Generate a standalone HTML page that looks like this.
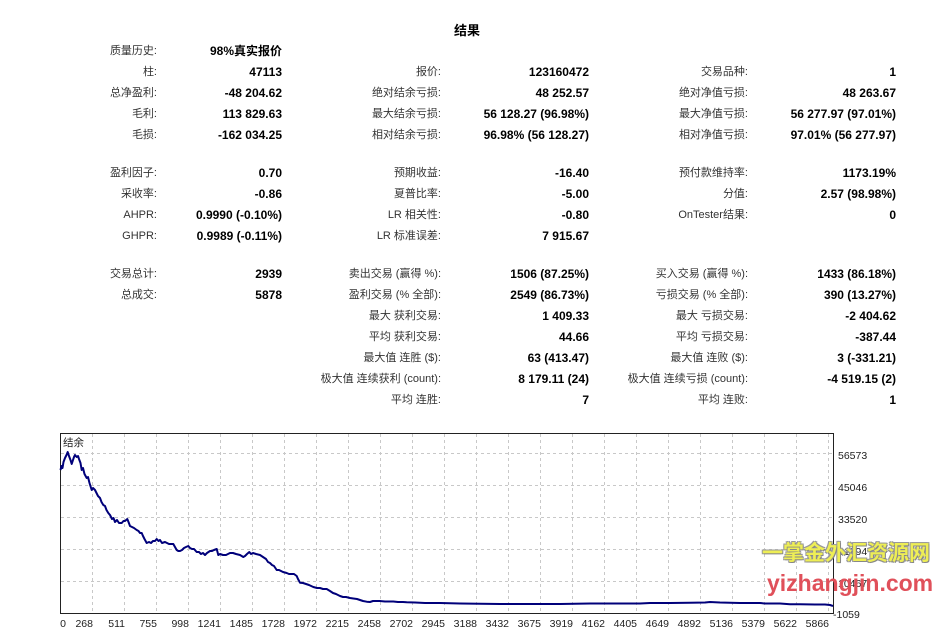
<!DOCTYPE html>
<html><head><meta charset="utf-8">
<style>
html,body{margin:0;padding:0;background:#fff;}
#wrap{position:relative;width:950px;height:637px;overflow:hidden;font-family:"Liberation Sans","Noto Sans CJK SC",sans-serif;}
.t{position:absolute;white-space:nowrap;line-height:14px;height:14px;}
.l{font-size:11px;color:#333;text-align:right;}
.v{font-size:12px;font-weight:bold;color:#000;text-align:right;}
.title{position:absolute;left:440px;width:54px;text-align:center;top:20px;font-size:13px;font-weight:bold;color:#000;}
svg{position:absolute;left:0;top:0;}
.wm1{position:absolute;left:762px;top:539px;font-family:"Noto Sans CJK SC","WenQuanYi Zen Hei",sans-serif;font-weight:bold;font-size:21px;line-height:26px;color:#eeee55;letter-spacing:0px;text-shadow:1px 1px 0 #888,-1px -1px 0 #999,1px -1px 0 #999,-1px 1px 0 #999;white-space:nowrap;}
.wm2{position:absolute;left:767px;top:570px;font-family:"Liberation Sans",sans-serif;font-weight:bold;font-size:23px;line-height:26px;color:#e0505a;white-space:nowrap;}
</style></head>
<body><div id="wrap">
<div class="title">结果</div>

<!-- rows: helper positions: L1 end 157, V1 end 282, L2 end 441, V2 end 589, L3 end 748, V3 end 896 -->
<!-- row 51 -->
<div class="t l" style="top:44px;right:793px;">质量历史:</div>
<div class="t v" style="top:44px;right:668px;">98%真实报价</div>
<!-- row 72 -->
<div class="t l" style="top:65px;right:793px;">柱:</div>
<div class="t v" style="top:65px;right:668px;">47113</div>
<div class="t l" style="top:65px;right:509px;">报价:</div>
<div class="t v" style="top:65px;right:361px;">123160472</div>
<div class="t l" style="top:65px;right:202px;">交易品种:</div>
<div class="t v" style="top:65px;right:54px;">1</div>
<!-- row 93 -->
<div class="t l" style="top:86px;right:793px;">总净盈利:</div>
<div class="t v" style="top:86px;right:668px;">-48 204.62</div>
<div class="t l" style="top:86px;right:509px;">绝对结余亏损:</div>
<div class="t v" style="top:86px;right:361px;">48 252.57</div>
<div class="t l" style="top:86px;right:202px;">绝对净值亏损:</div>
<div class="t v" style="top:86px;right:54px;">48 263.67</div>
<!-- row 114 -->
<div class="t l" style="top:107px;right:793px;">毛利:</div>
<div class="t v" style="top:107px;right:668px;">113 829.63</div>
<div class="t l" style="top:107px;right:509px;">最大结余亏损:</div>
<div class="t v" style="top:107px;right:361px;">56 128.27 (96.98%)</div>
<div class="t l" style="top:107px;right:202px;">最大净值亏损:</div>
<div class="t v" style="top:107px;right:54px;">56 277.97 (97.01%)</div>
<!-- row 135 -->
<div class="t l" style="top:128px;right:793px;">毛损:</div>
<div class="t v" style="top:128px;right:668px;">-162 034.25</div>
<div class="t l" style="top:128px;right:509px;">相对结余亏损:</div>
<div class="t v" style="top:128px;right:361px;">96.98% (56 128.27)</div>
<div class="t l" style="top:128px;right:202px;">相对净值亏损:</div>
<div class="t v" style="top:128px;right:54px;">97.01% (56 277.97)</div>
<!-- row 173 -->
<div class="t l" style="top:166px;right:793px;">盈利因子:</div>
<div class="t v" style="top:166px;right:668px;">0.70</div>
<div class="t l" style="top:166px;right:509px;">预期收益:</div>
<div class="t v" style="top:166px;right:361px;">-16.40</div>
<div class="t l" style="top:166px;right:202px;">预付款维持率:</div>
<div class="t v" style="top:166px;right:54px;">1173.19%</div>
<!-- row 194 -->
<div class="t l" style="top:187px;right:793px;">采收率:</div>
<div class="t v" style="top:187px;right:668px;">-0.86</div>
<div class="t l" style="top:187px;right:509px;">夏普比率:</div>
<div class="t v" style="top:187px;right:361px;">-5.00</div>
<div class="t l" style="top:187px;right:202px;">分值:</div>
<div class="t v" style="top:187px;right:54px;">2.57 (98.98%)</div>
<!-- row 215 -->
<div class="t l" style="top:208px;right:793px;">AHPR:</div>
<div class="t v" style="top:208px;right:668px;">0.9990 (-0.10%)</div>
<div class="t l" style="top:208px;right:509px;">LR 相关性:</div>
<div class="t v" style="top:208px;right:361px;">-0.80</div>
<div class="t l" style="top:208px;right:202px;">OnTester结果:</div>
<div class="t v" style="top:208px;right:54px;">0</div>
<!-- row 236 -->
<div class="t l" style="top:229px;right:793px;">GHPR:</div>
<div class="t v" style="top:229px;right:668px;">0.9989 (-0.11%)</div>
<div class="t l" style="top:229px;right:509px;">LR 标准误差:</div>
<div class="t v" style="top:229px;right:361px;">7 915.67</div>
<!-- row 274 -->
<div class="t l" style="top:267px;right:793px;">交易总计:</div>
<div class="t v" style="top:267px;right:668px;">2939</div>
<div class="t l" style="top:267px;right:509px;">卖出交易 (赢得 %):</div>
<div class="t v" style="top:267px;right:361px;">1506 (87.25%)</div>
<div class="t l" style="top:267px;right:202px;">买入交易 (赢得 %):</div>
<div class="t v" style="top:267px;right:54px;">1433 (86.18%)</div>
<!-- row 295 -->
<div class="t l" style="top:288px;right:793px;">总成交:</div>
<div class="t v" style="top:288px;right:668px;">5878</div>
<div class="t l" style="top:288px;right:509px;">盈利交易 (% 全部):</div>
<div class="t v" style="top:288px;right:361px;">2549 (86.73%)</div>
<div class="t l" style="top:288px;right:202px;">亏损交易 (% 全部):</div>
<div class="t v" style="top:288px;right:54px;">390 (13.27%)</div>
<!-- row 316 -->
<div class="t l" style="top:309px;right:509px;">最大 获利交易:</div>
<div class="t v" style="top:309px;right:361px;">1 409.33</div>
<div class="t l" style="top:309px;right:202px;">最大 亏损交易:</div>
<div class="t v" style="top:309px;right:54px;">-2 404.62</div>
<!-- row 337 -->
<div class="t l" style="top:330px;right:509px;">平均 获利交易:</div>
<div class="t v" style="top:330px;right:361px;">44.66</div>
<div class="t l" style="top:330px;right:202px;">平均 亏损交易:</div>
<div class="t v" style="top:330px;right:54px;">-387.44</div>
<!-- row 358 -->
<div class="t l" style="top:351px;right:509px;">最大值 连胜 ($):</div>
<div class="t v" style="top:351px;right:361px;">63 (413.47)</div>
<div class="t l" style="top:351px;right:202px;">最大值 连败 ($):</div>
<div class="t v" style="top:351px;right:54px;">3 (-331.21)</div>
<!-- row 379 -->
<div class="t l" style="top:372px;right:509px;">极大值 连续获利 (count):</div>
<div class="t v" style="top:372px;right:361px;">8 179.11 (24)</div>
<div class="t l" style="top:372px;right:202px;">极大值 连续亏损 (count):</div>
<div class="t v" style="top:372px;right:54px;">-4 519.15 (2)</div>
<!-- row 400 -->
<div class="t l" style="top:393px;right:509px;">平均 连胜:</div>
<div class="t v" style="top:393px;right:361px;">7</div>
<div class="t l" style="top:393px;right:202px;">平均 连败:</div>
<div class="t v" style="top:393px;right:54px;">1</div>

<svg width="950" height="637" viewBox="0 0 950 637" xmlns="http://www.w3.org/2000/svg">
<g stroke="#c8c8c8" stroke-width="1" stroke-dasharray="3,3" fill="none">
<line x1="61" y1="453.5" x2="833" y2="453.5"/>
<line x1="61" y1="485.5" x2="833" y2="485.5"/>
<line x1="61" y1="517.5" x2="833" y2="517.5"/>
<line x1="61" y1="549.5" x2="833" y2="549.5"/>
<line x1="61" y1="581.5" x2="833" y2="581.5"/>
<line x1="92.5" y1="434" x2="92.5" y2="613"/>
<line x1="124.5" y1="434" x2="124.5" y2="613"/>
<line x1="156.5" y1="434" x2="156.5" y2="613"/>
<line x1="188.5" y1="434" x2="188.5" y2="613"/>
<line x1="220.5" y1="434" x2="220.5" y2="613"/>
<line x1="252.5" y1="434" x2="252.5" y2="613"/>
<line x1="284.5" y1="434" x2="284.5" y2="613"/>
<line x1="316.5" y1="434" x2="316.5" y2="613"/>
<line x1="348.5" y1="434" x2="348.5" y2="613"/>
<line x1="380.5" y1="434" x2="380.5" y2="613"/>
<line x1="412.5" y1="434" x2="412.5" y2="613"/>
<line x1="444.5" y1="434" x2="444.5" y2="613"/>
<line x1="476.5" y1="434" x2="476.5" y2="613"/>
<line x1="508.5" y1="434" x2="508.5" y2="613"/>
<line x1="540.5" y1="434" x2="540.5" y2="613"/>
<line x1="572.5" y1="434" x2="572.5" y2="613"/>
<line x1="604.5" y1="434" x2="604.5" y2="613"/>
<line x1="636.5" y1="434" x2="636.5" y2="613"/>
<line x1="668.5" y1="434" x2="668.5" y2="613"/>
<line x1="700.5" y1="434" x2="700.5" y2="613"/>
<line x1="732.5" y1="434" x2="732.5" y2="613"/>
<line x1="764.5" y1="434" x2="764.5" y2="613"/>
<line x1="796.5" y1="434" x2="796.5" y2="613"/>
<line x1="828.5" y1="434" x2="828.5" y2="613"/>
</g>
<rect x="60.5" y="433.5" width="773" height="180" fill="none" stroke="#222" stroke-width="1"/>
<polyline fill="none" stroke="#00007a" stroke-width="2" stroke-linejoin="round" points="
60.5,470 61.5,466 62.5,468 63.5,462 65,458 66.5,455 67.7,452 69,456 70.5,460 71.7,464 73,460 74,457 75,455 76.7,457 78,456 79,459 80.5,463 81.7,470 83,468 84.5,474 86.7,478 88,477 89.5,483 91.7,490 93,488 95,490 96.5,493 98,496 100,498 101.5,502 103.3,505 105,506 106.5,510 108.3,513 110,515 112,519 113.5,518 115,522 117,520 119,523 121.7,523 123.5,521 125,521 127.3,519 128.5,522 130,526 132,527 134,528 136.7,530 138.5,531 140,533 141.7,533 143,536 144.5,539 146.7,543 149,542 151,543 153,541 155,541 156.7,539 158.5,541 160,540 162,543 165,542 167,543 169,544 171,544 173.3,544 175,547 176.7,550 178.3,551 180,551 182,550 184,548 186,547 188.3,546 190,548 192,549 194,549 196.7,552 199,552 201,554 203,553 205,555 207,553 208.5,552 210,551 212,551 214,550 216.7,549 218.3,555 220,554 223,555 226,555 230,553 233,553 236,554 240,555 243.3,557 245,556 247,554 249.3,552 251,554 253,553 256,554 260,555 263,557 266,559 268,562 270,563 272,565 274,566 276.7,570 279,570 281,571 283,572 286.7,573 289,574 292,574 294,574 296.7,576 298,579 300,582.7 303,583 306,584 309,585 313.3,587 317,588 320,588 323,589 326.7,589 330,591 333,593 336,594 340,596 343,597 346,597 350,598 353.3,598.5 357,599 360,600 363,601 366.7,601.7 370,602 373,601 376,601 380,601 385,601.5 390,601.5 393.3,601.5 398,602 403,602 406.7,602.3 415,602.5 425,603 440,603 460,603.5 480,603.8 500,604 530,604 560,604 590,603.5 620,603.5 640,603.5 650,603 670,603 690,602.8 705,602.5 710,602 720,602.5 740,603 760,603 765,603.5 780,603.5 790,604.3 800,604.3 815,604.5 825,604.5 830,605 833,606"/>
<text x="63" y="446" font-family="Liberation Sans, Noto Sans CJK SC, sans-serif" font-size="10.5" fill="#222">结余</text>
<g font-family="Liberation Sans, sans-serif" font-size="10.5" fill="#222">
<text x="838" y="459">56573</text>
<text x="838" y="491">45046</text>
<text x="838" y="523">33520</text>
<text x="838" y="555">21994</text>
<text x="838" y="587">10467</text>
<text x="833" y="618">-1059</text>
</g>
<g font-family="Liberation Sans, sans-serif" font-size="10.5" fill="#222" text-anchor="end">
<text x="66" y="627">0</text>
<text x="93" y="627">268</text>
<text x="125" y="627">511</text>
<text x="157" y="627">755</text>
<text x="189" y="627">998</text>
<text x="221" y="627">1241</text>
<text x="253" y="627">1485</text>
<text x="285" y="627">1728</text>
<text x="317" y="627">1972</text>
<text x="349" y="627">2215</text>
<text x="381" y="627">2458</text>
<text x="413" y="627">2702</text>
<text x="445" y="627">2945</text>
<text x="477" y="627">3188</text>
<text x="509" y="627">3432</text>
<text x="541" y="627">3675</text>
<text x="573" y="627">3919</text>
<text x="605" y="627">4162</text>
<text x="637" y="627">4405</text>
<text x="669" y="627">4649</text>
<text x="701" y="627">4892</text>
<text x="733" y="627">5136</text>
<text x="765" y="627">5379</text>
<text x="797" y="627">5622</text>
<text x="829" y="627">5866</text>
</g>
</svg>
<div class="wm1">一掌金外汇资源网</div>
<div class="wm2">yizhangjin.com</div>
</div></body></html>
